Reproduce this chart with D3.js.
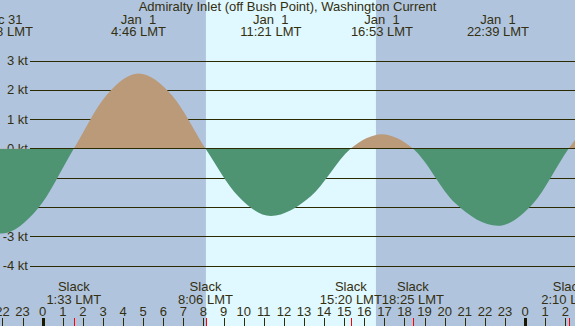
<!DOCTYPE html>
<html>
<head>
  <script src="https://d3js.org/d3.v7.min.js"></script>
  <style>
    body { margin: 0; background: #b0c4de; }
    svg { display: block; font-family: "Liberation Sans", Arial, sans-serif; font-size: 13px; }
    text { fill: #332f10; }
  </style>
</head>
<body>
  <div id="chart"></div>
  <script>
    const eventHours  = [-5.4, -3.7, -2.03, -0.24, 1.55, 3.16, 4.77, 6.44, 8.10, 9.73, 11.35, 13.34,
                         15.33, 16.1, 16.88, 17.65, 18.42, 20.53, 22.65, 24.41, 26.17, 27.9, 29.6];
    const eventSpeeds = [0,    -2.05, -2.9, -2.05, 0,    1.81, 2.56, 1.81, 0,    -1.63, -2.30, -1.63,
                         0,     0.35, 0.49, 0.35,  0,    -1.87, -2.64, -1.87, 0,    1.48, 2.1];

    const maxLabels = [
      { hour: -2.03, day: "Dec 31", time: "21:58 LMT" },
      { hour: 4.77,  day: "Jan  1", time: "4:46 LMT" },
      { hour: 11.35, day: "Jan  1", time: "11:21 LMT" },
      { hour: 16.88, day: "Jan  1", time: "16:53 LMT" },
      { hour: 22.65, day: "Jan  1", time: "22:39 LMT" }
    ];
    const slackLabels = [
      { hour: 1.55,  time: "1:33 LMT" },
      { hour: 8.10,  time: "8:06 LMT" },
      { hour: 15.33, time: "15:20 LMT" },
      { hour: 18.42, time: "18:25 LMT" },
      { hour: 26.17, time: "2:10 LMT" }
    ];
    const sunrise = 8.12, sunset = 16.58;
    const ktTicks = [3, 2, 1, 0, -1, -2, -3, -4];
    const hourTicks = d3.range(-2, 27);

    const width = 575, height = 326;
    const title = "Admiralty Inlet (off Bush Point), Washington Current";

    const x = d3.scaleLinear().domain([-2.124, 26.483]).range([0, width]);
    const y = d3.scaleLinear().domain([-4, 3]).range([265.7, 60.7]);

    const svg = d3.select("#chart").append("svg")
      .attr("width", width)
      .attr("height", height);

    // night background + daylight band
    svg.append("rect").attr("width", width).attr("height", height).attr("fill", "#b0c4de");
    svg.append("rect")
      .attr("x", x(sunrise)).attr("width", x(sunset) - x(sunrise))
      .attr("y", 0).attr("height", height)
      .attr("fill", "#e0f8ff");

    // grid lines
    svg.append("g").selectAll("line")
      .data(ktTicks.filter(d => d !== 0))
      .join("line")
        .attr("x1", 30).attr("x2", width)
        .attr("y1", d => Math.round(y(d)) + 0.5).attr("y2", d => Math.round(y(d)) + 0.5)
        .attr("stroke", "#2b2a00");

    svg.append("g").selectAll("text")
      .data(ktTicks)
      .join("text")
        .attr("x", 28).attr("y", d => y(d) + 4.5)
        .attr("text-anchor", "end")
        .text(d => d + " kt");

    const pts = eventHours.map((h, i) => [h, eventSpeeds[i]]);
    const area = d3.area()
      .x(d => x(d[0]))
      .y0(y(0))
      .y1(d => y(d[1]))
      .curve(d3.curveMonotoneX);

    const defs = svg.append("defs");
    defs.append("clipPath").attr("id", "above")
      .append("rect").attr("x", 0).attr("y", 0).attr("width", width).attr("height", y(0));
    defs.append("clipPath").attr("id", "below")
      .append("rect").attr("x", 0).attr("y", y(0) + 0.5).attr("width", width).attr("height", height);

    svg.append("path").datum(pts)
      .attr("d", area)
      .attr("fill", "#bb9a7a")
      .attr("clip-path", "url(#above)");

    svg.append("line")
      .attr("x1", 30).attr("x2", width)
      .attr("y1", Math.round(y(0)) - 0.5).attr("y2", Math.round(y(0)) - 0.5)
      .attr("stroke", "#2b2a00");

    svg.append("path").datum(pts)
      .attr("d", area)
      .attr("fill", "#4e9473")
      .attr("clip-path", "url(#below)");

    // title and max current labels
    svg.append("text")
      .attr("x", width / 2).attr("y", 11)
      .attr("text-anchor", "middle")
      .text(title);

    const maxG = svg.append("g").selectAll("g").data(maxLabels).join("g");
    maxG.append("text")
      .attr("x", d => x(d.hour)).attr("y", 23.5)
      .attr("text-anchor", "middle")
      .attr("xml:space", "preserve")
      .text(d => d.day);
    maxG.append("text")
      .attr("x", d => x(d.hour)).attr("y", 35.5)
      .attr("text-anchor", "middle")
      .text(d => d.time);

    // slack labels
    const slackG = svg.append("g").selectAll("g").data(slackLabels).join("g");
    slackG.append("text")
      .attr("x", d => x(d.hour)).attr("y", 291)
      .attr("text-anchor", "middle")
      .text("Slack");
    slackG.append("text")
      .attr("x", d => x(d.hour)).attr("y", 303.5)
      .attr("text-anchor", "middle")
      .text(d => d.time);

    // hour axis
    svg.append("g").selectAll("text")
      .data(hourTicks)
      .join("text")
        .attr("x", d => x(d)).attr("y", 316)
        .attr("text-anchor", "middle")
        .text(d => ((d % 24) + 24) % 24);

    svg.append("g").selectAll("line")
      .data(hourTicks)
      .join("line")
        .attr("x1", d => Math.round(x(d)) + 0.5).attr("x2", d => Math.round(x(d)) + 0.5)
        .attr("y1", 318).attr("y2", height)
        .attr("stroke", d => d % 24 === 0 ? "#1a1800" : "#2b2a00")
        .attr("stroke-width", d => d % 24 === 0 ? 3 : 1);

    svg.append("g").selectAll("line")
      .data(slackLabels)
      .join("line")
        .attr("x1", d => Math.round(x(d.hour)) + 0.5).attr("x2", d => Math.round(x(d.hour)) + 0.5)
        .attr("y1", 318).attr("y2", height)
        .attr("stroke", "#ff0000");
  </script>
</body>
</html>
